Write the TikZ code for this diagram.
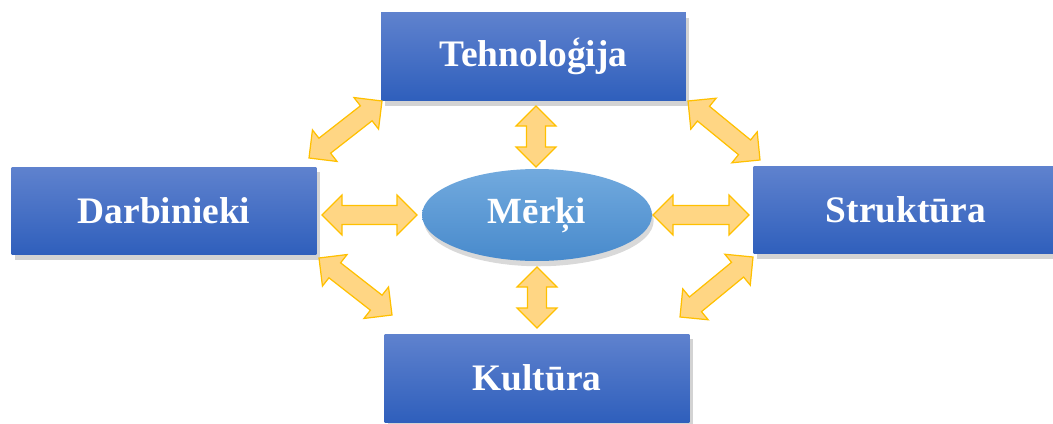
\documentclass[tikz,border=0pt]{standalone}
\usepackage{fontspec}
\setmainfont{Liberation Serif}
\usetikzlibrary{calc,shapes.geometric,shadows}
\definecolor{boxtop}{RGB}{95,130,206}
\definecolor{boxbottom}{RGB}{47,95,188}
\definecolor{elltop}{RGB}{114,170,222}
\definecolor{ellbottom}{RGB}{72,138,204}
\definecolor{arrowfill}{RGB}{255,214,132}
\definecolor{arrowline}{RGB}{255,192,0}
% fat double arrow between two points
\newcommand{\fatarrow}[2]{%
\filldraw[arrow_style] (#1) -- ($(#1)!0.4cm!(#2)!0.4cm!90:(#2)$) -- ($(#1)!0.4cm!(#2)!0.19cm!90:(#2)$)
 -- ($(#2)!0.4cm!(#1)!0.19cm!-90:(#1)$) -- ($(#2)!0.4cm!(#1)!0.4cm!-90:(#1)$) -- (#2)
 -- ($(#2)!0.4cm!(#1)!0.4cm!90:(#1)$) -- ($(#2)!0.4cm!(#1)!0.19cm!90:(#1)$)
 -- ($(#1)!0.4cm!(#2)!0.19cm!-90:(#2)$) -- ($(#1)!0.4cm!(#2)!0.4cm!-90:(#2)$) -- cycle;}
\begin{document}
\begin{tikzpicture}[x=0.02cm, y=-0.02cm,
box_style/.style={rectangle,inner sep=0pt,minimum width=6.1cm,minimum height=1.76cm,
 top color=boxtop,bottom color=boxbottom,text=white,font=\fontsize{21.3}{25}\selectfont\bfseries,
 drop shadow={shadow xshift=2pt,shadow yshift=-3pt,opacity=0.35}},
goal_style/.style={ellipse,inner sep=0pt,minimum width=4.6cm,minimum height=1.84cm,
 top color=elltop,bottom color=ellbottom,text=white,font=\fontsize{21}{25}\selectfont\bfseries,
 drop shadow={shadow xshift=1pt,shadow yshift=-3pt,opacity=0.3}},
arrow_style/.style={fill=arrowfill,draw=arrowline,line width=0.7pt,line join=miter}]
\useasboundingbox (0,0) rectangle (1053,423);
\node[box_style] (tehn) at (533.5,56.5) {Tehnoloģija};
\node[box_style] (darb) at (164,211) {Darbinieki};
\node[box_style] (strukt) at (906,210) {Struktūra};
\node[box_style] (kult) at (537,378) {Kultūra};
\node[goal_style] (merki) at (537,215) {Mērķi};
% arrow ends
\coordinate (dt1) at (309,158);  \coordinate (dt2) at (382,101);
\coordinate (dk1) at (319,258);  \coordinate (dk2) at (392,315);
\coordinate (ts1) at (688,101);  \coordinate (ts2) at (760,160);
\coordinate (sk1) at (753,257);  \coordinate (sk2) at (680,317);
\coordinate (dm1) at (322,215);  \coordinate (dm2) at (417,215);
\coordinate (ms1) at (653,215);  \coordinate (ms2) at (749,215);
\coordinate (tm1) at (536,106);  \coordinate (tm2) at (536,167);
\coordinate (mk1) at (537,267);  \coordinate (mk2) at (537,328);
\fatarrow{dt1}{dt2}
\fatarrow{dk1}{dk2}
\fatarrow{ts1}{ts2}
\fatarrow{sk1}{sk2}
\fatarrow{dm1}{dm2}
\fatarrow{ms1}{ms2}
\fatarrow{tm1}{tm2}
\fatarrow{mk1}{mk2}
\end{tikzpicture}
\end{document}
